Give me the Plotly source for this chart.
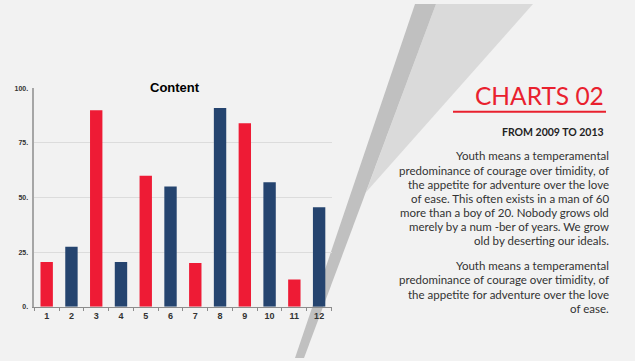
import plotly.graph_objects as go

W, H = 635, 361

# ---- data ----
categories = ["1", "2", "3", "4", "5", "6", "7", "8", "9", "10", "11", "12"]
values = [20.5, 27.5, 90, 20.5, 60, 55, 20, 91, 84, 57, 12.5, 45.5]
bar_colors = ["#EE1B35", "#25446F", "#EE1B35", "#25446F", "#EE1B35", "#25446F",
              "#EE1B35", "#25446F", "#EE1B35", "#25446F", "#EE1B35", "#25446F"]
y_tickvals = [0, 25, 50, 75, 100]
y_ticktext = ["0.", "25.", "50.", "75.", "100."]

chart_title = "Content"
heading = "CHARTS 02"
subheading = "FROM 2009 TO 2013"
para1 = ["Youth means a temperamental",
         "predominance of courage over timidity, of",
         "the appetite for adventure over the love",
         "of ease. This often exists in a man of 60",
         "more than a boy of 20. Nobody grows old",
         "merely by a num -ber of years. We grow",
         "old by deserting our ideals."]
para2 = ["Youth means a temperamental",
         "predominance of courage over timidity, of",
         "the appetite for adventure over the love",
         "of ease."]


def px(x):
    return x / W


def py(y):
    return 1 - y / H


fig = go.Figure()
fig.add_trace(go.Bar(x=categories, y=values, marker=dict(color=bar_colors, line=dict(width=0)),
                     width=0.5, hoverinfo="skip"))

# decorative shapes
dark_band = [(415, 0), (436, 0), (304, H), (295, H)]
light_tri = [(436, 0), (533, 0), (366, 192)]


def path(pts):
    return "M " + " L ".join(f"{px(x):.5f},{py(y):.5f}" for x, y in pts) + " Z"


shapes = [
    dict(type="path", xref="paper", yref="paper", path=path(light_tri),
         fillcolor="#DADADA", line=dict(width=0), layer="below"),
    dict(type="path", xref="paper", yref="paper", path=path(dark_band),
         fillcolor="#C0C0C0", line=dict(width=0), layer="below"),
    dict(type="line", xref="paper", yref="paper", x0=px(453), x1=px(606), y0=py(110), y1=py(110),
         line=dict(color="#E9212E", width=2)),
]

annotations = [
    dict(text=chart_title, x=px(175), y=py(85), xref="paper", yref="paper", showarrow=False,
         xanchor="center", yanchor="middle",
         font=dict(family="Liberation Sans, Arial", size=13, color="#000000", weight="bold")),
    dict(text=heading, x=px(606), y=py(93), xref="paper", yref="paper", showarrow=False,
         xanchor="right", yanchor="middle",
         font=dict(family="Lato", size=24.5, color="#E9212E")),
    dict(text=subheading, x=px(606), y=py(131), xref="paper", yref="paper", showarrow=False,
         xanchor="right", yanchor="middle",
         font=dict(family="Lato", size=10.5, color="#222222", weight="bold")),
]
for i, line in enumerate(para1):
    annotations.append(dict(text=line, x=px(611), y=py(155 + i * 14.4), xref="paper", yref="paper",
                            showarrow=False, xanchor="right", yanchor="middle",
                            font=dict(family="Lato", size=11.5, color="#333333")))
for i, line in enumerate(para2):
    annotations.append(dict(text=line, x=px(611), y=py(267 + i * 14.4), xref="paper", yref="paper",
                            showarrow=False, xanchor="right", yanchor="middle",
                            font=dict(family="Lato", size=11.5, color="#333333")))

fig.update_layout(
    width=W, height=H, margin=dict(l=0, r=0, t=0, b=0),
    paper_bgcolor="#F2F2F2", plot_bgcolor="rgba(0,0,0,0)",
    showlegend=False, bargap=0.5,
    shapes=shapes, annotations=annotations,
    xaxis=dict(domain=[px(34.3), px(331.5)], type="category", showgrid=False,
               showline=True, linecolor="#8C8C8C", linewidth=1.2,
               ticks="outside", tickson="boundaries", ticklen=3, tickcolor="#8C8C8C",
               tickfont=dict(family="Liberation Sans, Arial", size=9, color="#333333", weight="bold"),
               fixedrange=True),
    yaxis=dict(domain=[py(308.7), py(86)], range=[0, 100], tickvals=y_tickvals, ticktext=y_ticktext,
               showgrid=True, gridcolor="#DCDCDC", gridwidth=1, zeroline=False,
               showline=True, linecolor="#A6A6A6", linewidth=1.5,
               ticks="", ticklabelstandoff=3,
               tickfont=dict(family="Liberation Sans, Arial", size=7, color="#333333", weight="bold"),
               fixedrange=True),
)

fig.write_html("out.html", config={"displayModeBar": False},
               post_script="document.body.style.margin='0';document.body.style.overflow='hidden';"
                           "document.body.style.background='#F2F2F2';")
